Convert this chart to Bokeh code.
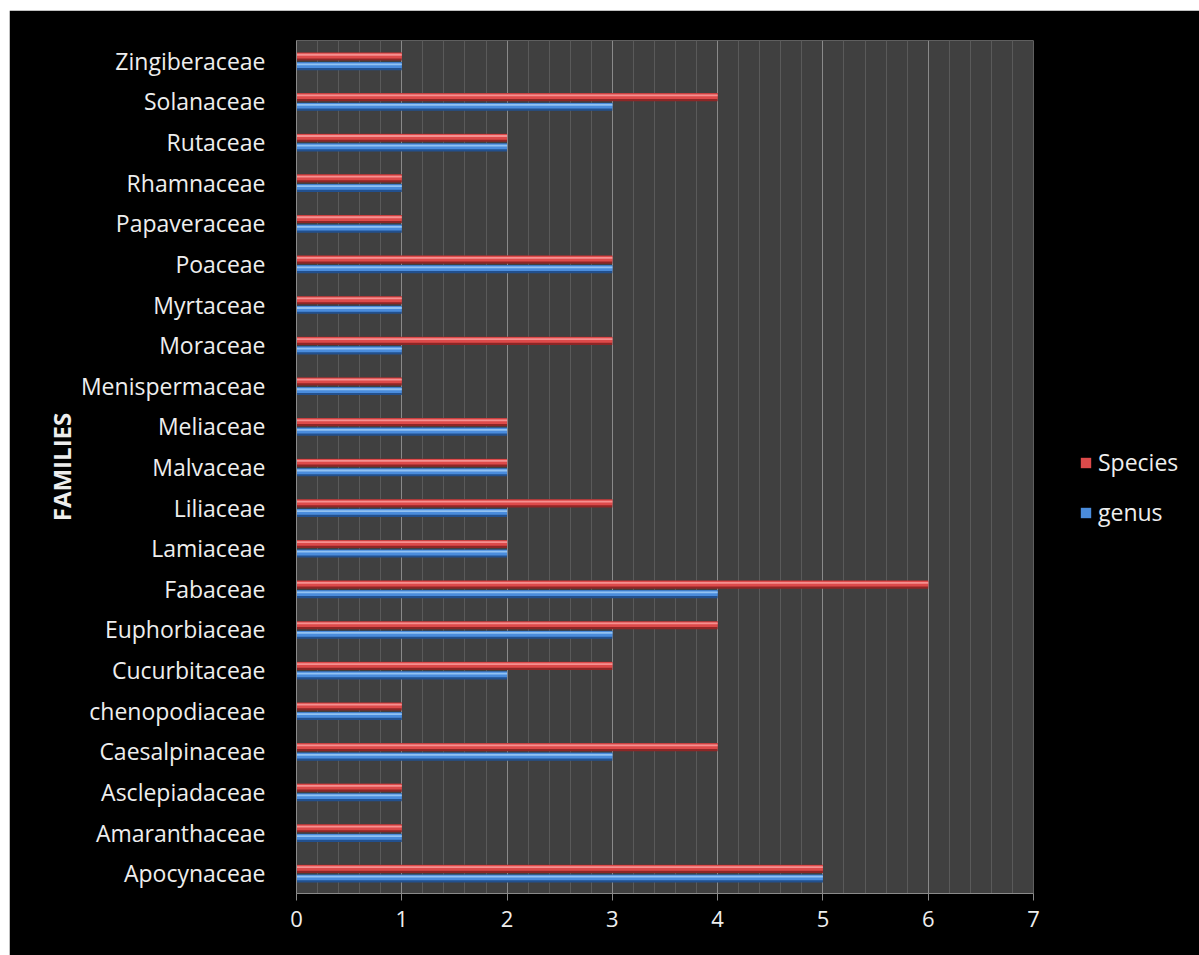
import numpy as np
from bokeh.plotting import figure
from bokeh.models import FixedTicker, Legend, LegendItem, Spacer
from bokeh.layouts import column, row
from bokeh.embed import file_html
from bokeh.resources import INLINE

families = ["Apocynaceae", "Amaranthaceae", "Asclepiadaceae", "Caesalpinaceae",
            "chenopodiaceae", "Cucurbitaceae", "Euphorbiaceae", "Fabaceae",
            "Lamiaceae", "Liliaceae", "Malvaceae", "Meliaceae", "Menispermaceae",
            "Moraceae", "Myrtaceae", "Poaceae", "Papaveraceae", "Rhamnaceae",
            "Rutaceae", "Solanaceae", "Zingiberaceae"]
species = [5, 1, 1, 4, 1, 3, 4, 6, 2, 3, 2, 2, 1, 3, 1, 3, 1, 1, 2, 4, 1]
genus   = [5, 1, 1, 3, 1, 2, 3, 4, 2, 2, 2, 2, 1, 1, 1, 3, 1, 1, 2, 3, 1]
x_ticks = [0, 1, 2, 3, 4, 5, 6, 7]

FONT = "Open Sans"
TXT = "#eeeeee"

ypos = np.arange(len(families))

p = figure(frame_width=737, frame_height=853, x_range=(0, 7), y_range=(-0.5, len(families) - 0.5),
           output_backend="svg", toolbar_location=None,
           background_fill_color="#404040", border_fill_color="#000000",
           min_border_left=287, min_border_right=10, min_border_top=30, min_border_bottom=62)
p.outline_line_color = None

# bars with a simple cylinder-like shading
H = 0.2
def shaded(values, center_off, dark, main, light):
    yc = ypos + center_off
    p.hbar(y=yc, left=0, right=values, height=H, fill_color=dark, line_color=None)
    r = p.hbar(y=yc + H * 0.12, left=0, right=values, height=H * 0.7, fill_color=main, line_color=None)
    p.hbar(y=yc + H * 0.22, left=0, right=values, height=H * 0.22, fill_color=light, line_color=None)
    return r

r_sp = shaded(species, 0.105, "#8e2626", "#dd4a4a", "#f59090")
r_ge = shaded(genus, -0.13, "#22508e", "#4a8cdc", "#92c2f2")

# grid
p.xgrid.ticker = FixedTicker(ticks=x_ticks, minor_ticks=list(np.round(np.arange(0, 7.01, 0.2), 2)))
p.xgrid.grid_line_color = "#8a8a8a"
p.xgrid.grid_line_width = 1
p.xgrid.minor_grid_line_color = "#5a5a5a"
p.ygrid.grid_line_color = None

# x axis
p.xaxis.ticker = FixedTicker(ticks=x_ticks)
p.xaxis.axis_line_color = "#8a8a8a"
p.xaxis.major_tick_line_color = "#8a8a8a"
p.xaxis.major_tick_out = 7
p.xaxis.major_tick_in = 0
p.xaxis.minor_tick_line_color = None
p.xaxis.major_label_text_color = TXT
p.xaxis.major_label_text_font = FONT
p.xaxis.major_label_text_font_size = "22px"
p.xaxis.major_label_standoff = 10

# y axis
p.yaxis.ticker = FixedTicker(ticks=list(ypos))
p.yaxis.major_label_overrides = {int(i): f for i, f in zip(ypos, families)}
p.yaxis.axis_line_color = "#8a8a8a"
p.yaxis.major_tick_line_color = None
p.yaxis.minor_tick_line_color = None
p.yaxis.major_label_text_color = TXT
p.yaxis.major_label_text_font = FONT
p.yaxis.major_label_text_font_size = "23px"
p.yaxis.major_label_standoff = 25
p.yaxis.axis_label = "FAMILIES"
p.yaxis.axis_label_text_color = TXT
p.yaxis.axis_label_text_font = FONT
p.yaxis.axis_label_text_font_style = "bold"
p.yaxis.axis_label_text_font_size = "24px"
p.yaxis.axis_label_standoff = 0

legend = Legend(items=[LegendItem(label="Species", renderers=[r_sp]),
                       LegendItem(label="genus", renderers=[r_ge])],
                location=(46, 365), background_fill_alpha=0, border_line_color=None,
                label_text_color=TXT, label_text_font=FONT, label_text_font_size="23px",
                glyph_width=13, glyph_height=13, spacing=18, label_standoff=6,
                padding=6, margin=0)
p.add_layout(legend, "right")

layout = column(Spacer(height=10), row(Spacer(width=9), p))
open("out.html", "w").write(file_html(layout, INLINE))
